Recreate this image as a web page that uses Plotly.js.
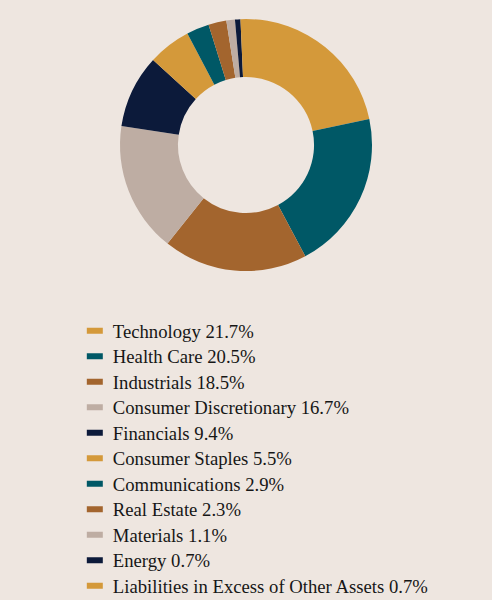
<!DOCTYPE html>
<html>
<head>
<meta charset="utf-8">
<script src="https://cdn.plot.ly/plotly-3.0.1.min.js"></script>
<style>
html,body{margin:0;padding:0;background:#EEE6E0;}
#chart{width:492px;height:600px;}
</style>
</head>
<body>
<div id="chart"></div>
<script>
const sectors = ["Technology","Health Care","Industrials","Consumer Discretionary","Financials","Consumer Staples","Communications","Real Estate","Materials","Energy","Liabilities in Excess of Other Assets"];
const weights = [21.7,20.5,18.5,16.7,9.4,5.5,2.9,2.3,1.1,0.7,0.7];
const sliceColors = ["#D4993A","#005866","#A3652E","#BEADA3","#0C1A3A","#D4993A","#005866","#A3652E","#BEADA3","#0C1A3A","#D4993A"];
const legendLabels = sectors.map((s,i)=> s + " " + weights[i].toFixed(1) + "%");

const data = [{
  type: "pie",
  labels: legendLabels,
  values: weights,
  hole: 0.54,
  sort: false,
  direction: "clockwise",
  rotation: 0,
  textinfo: "none",
  hoverinfo: "label",
  marker: {colors: sliceColors, line: {width: 0}},
  domain: {x: [0, 1], y: [0.5483, 0.9683]},
  showlegend: true
}];

const layout = {
  width: 492, height: 600,
  margin: {l: 0, r: 0, t: 0, b: 0},
  paper_bgcolor: "#EEE6E0",
  plot_bgcolor: "#EEE6E0",
  showlegend: true,
  legend: {
    x: 0.148, xanchor: "left",
    y: 0.56, yanchor: "top",
    orientation: "v",
    bgcolor: "rgba(0,0,0,0)",
    font: {family: "Liberation Serif, Times New Roman, serif", size: 18.7, color: "#161616"},
    traceorder: "normal"
  }
};

Plotly.newPlot("chart", data, layout, {displayModeBar: false, staticPlot: true}).then(gd => {
  gd.querySelectorAll(".legendpoints path").forEach(p => {
    p.setAttribute("d", "M-8,3H8V-3H-8Z");
    p.setAttribute("transform", "translate(22,0)");
  });
  const items = gd.querySelectorAll(".legend .traces");
  if (items.length) {
    const m = /translate\(([-\d.]+),\s*([-\d.]+)\)/.exec(items[0].getAttribute("transform") || "");
    if (m) {
      const x0 = parseFloat(m[1]), y0 = parseFloat(m[2]);
      items.forEach((g, i) => g.setAttribute("transform", "translate(" + x0 + "," + (y0 + i * 25.5) + ")"));
    }
  }
  const leg = gd.querySelector("g.legend");
  if (leg) {
    const m2 = /translate\(([-\d.]+),\s*([-\d.]+)\)/.exec(leg.getAttribute("transform") || "");
    if (m2) {
      const lx = parseFloat(m2[1]), ly = parseFloat(m2[2]);
      leg.setAttribute("transform", "translate(" + lx + "," + (ly + 48) + ")");
    }
  }
});
</script>
</body>
</html>
